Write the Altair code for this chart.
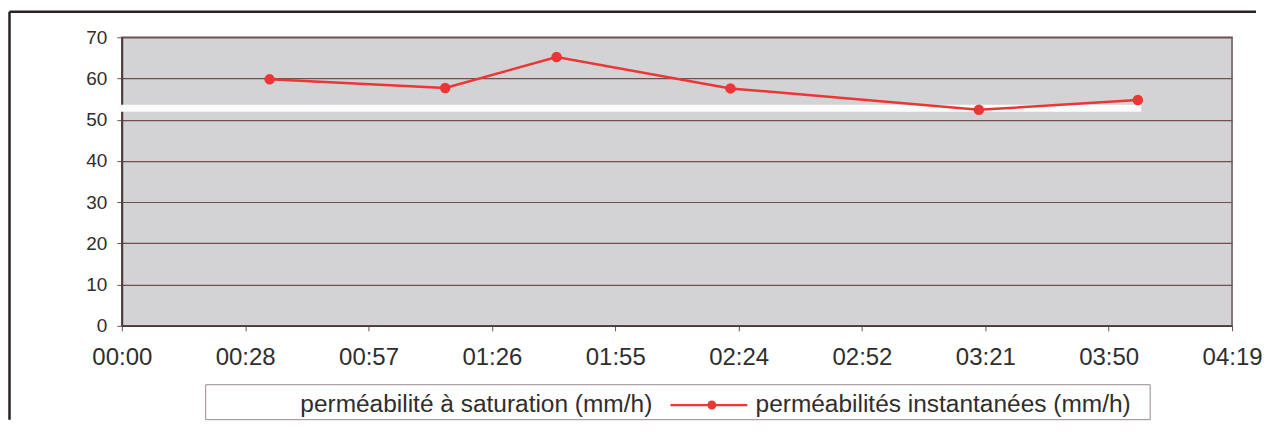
import altair as alt
import pandas as pd

# ---- data ----
series_names = ["perméabilité à saturation (mm/h)", "perméabilités instantanées (mm/h)"]
inst_minutes = [34.5, 75.5, 101.5, 142.1, 200.1, 237.2]
inst_values = [59.8, 57.7, 65.2, 57.6, 52.4, 54.8]
sat_minutes = [0.0, 237.2]
sat_values = [52.8, 52.8]
tick_minutes = [0.0, 28.8, 57.6, 86.4, 115.2, 144.0, 172.8, 201.6, 230.4, 259.2]
tick_labels = ["00:00", "00:28", "00:57", "01:26", "01:55", "02:24", "02:52", "03:21", "03:50", "04:19"]
y_ticks = [0, 10, 20, 30, 40, 50, 60, 70]

RED = "#ee3535"
FONT = "Liberation Sans"
GRID = "#6e5050"

inst_df = pd.DataFrame({"t": inst_minutes, "v": inst_values, "s": series_names[1]})
sat_df = pd.DataFrame({"t": sat_minutes, "v": sat_values, "s": series_names[0]})

labels_js = "[" + ",".join("'%s'" % l for l in tick_labels) + "]"
tick_js = "[" + ",".join(str(t) for t in tick_minutes) + "]"
label_expr = labels_js + "[indexof(" + tick_js + ", datum.value)]"

x_enc = alt.X(
    "t:Q",
    scale=alt.Scale(domain=[tick_minutes[0], tick_minutes[-1]], nice=False, zero=False),
    axis=alt.Axis(
        values=tick_minutes, labelExpr=label_expr, title=None, grid=False,
        labelFont=FONT, labelFontSize=24, labelColor="#2e2e2e", labelPadding=15,
        tickSize=5, tickColor=GRID, domainColor="#4a3a3a", domainWidth=1.5,
        labelOverlap=False, labelFlush=False,
    ),
)
y_enc = alt.Y(
    "v:Q",
    scale=alt.Scale(domain=[y_ticks[0], y_ticks[-1]], nice=False),
    axis=alt.Axis(
        values=y_ticks, title=None, grid=True, gridColor=GRID, gridWidth=1.2,
        labelFont=FONT, labelFontSize=19, labelColor="#2e2e2e", labelPadding=10,
        tickSize=5, tickColor=GRID, domainColor="#4a3a3a", domainWidth=1.8,
    ),
)

symbol_path = "M-1,-0.11H6.7V0.11H-1Z M3.6,0A0.45,0.45 0 1,1 2.7,0A0.45,0.45 0 1,1 3.6,0Z"

sat_line = alt.Chart(sat_df).mark_line(
    color="#fbfbfb", strokeWidth=7, strokeCap="square"
).encode(x=x_enc, y=y_enc)

inst_line = alt.Chart(inst_df).mark_line(color=RED, strokeWidth=2.5).encode(x=x_enc, y=y_enc)

inst_pts = alt.Chart(inst_df).mark_point(filled=True, size=110, opacity=1).encode(
    x=x_enc,
    y=y_enc,
    fill=alt.Fill(
        "s:N",
        scale=alt.Scale(domain=series_names, range=["white", RED]),
        legend=alt.Legend(
            orient="none", legendX=91.25, legendY=356, direction="horizontal", title=None,
            symbolType=symbol_path, symbolSize=400, symbolStrokeWidth=0, symbolOpacity=1,
            labelFont=FONT, labelFontSize=24.5, labelColor="#2e2e2e", labelOffset=63,
            columnPadding=15, padding=0, labelLimit=800,
        ),
    ),
)

one = pd.DataFrame({"k": [0]})
legend_box = alt.Chart(one).mark_rect(fill="white", stroke="#9a8a8a", strokeWidth=1).encode(
    x=alt.value(84), x2=alt.value(1030), y=alt.value(348), y2=alt.value(383)
)
border_left = alt.Chart(one).mark_rule(color="#2a2222", strokeWidth=2.5).encode(
    x=alt.value(-112.5), y=alt.value(-25.5), y2=alt.value(383)
)
border_top = alt.Chart(one).mark_rule(color="#2a2222", strokeWidth=2.5).encode(
    x=alt.value(-112.5), x2=alt.value(1136), y=alt.value(-25.5)
)

chart = (
    alt.layer(border_left, border_top, legend_box, sat_line, inst_line, inst_pts)
    .properties(width=1112, height=289, padding={"left": 0, "top": 2, "right": 0, "bottom": 0},
                background="white")
    .configure_view(fill="#d3d3d5", stroke="#6a5555", strokeWidth=1.5)
)

chart.save("out.html", embed_options={"renderer": "svg", "actions": False})
